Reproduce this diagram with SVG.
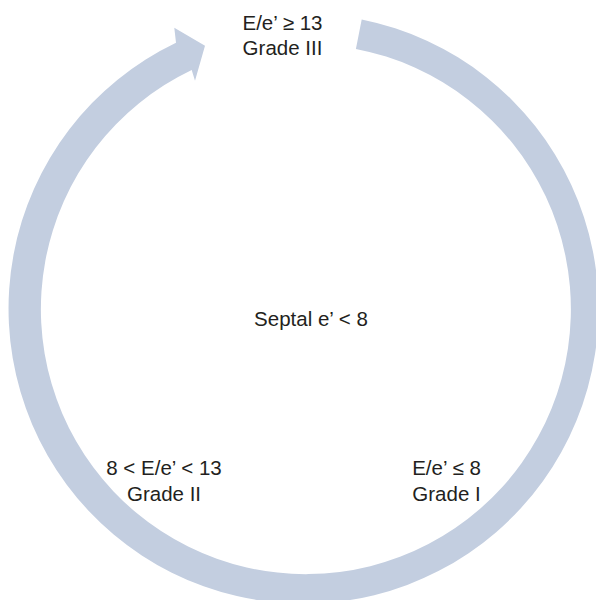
<svg xmlns="http://www.w3.org/2000/svg" width="596" height="600" viewBox="0 0 596 600">
  <style>
    .ring { fill: #c3cee0; stroke: none; }
    .label { font-family: "Liberation Sans", Arial, sans-serif; font-size: 20.5px; fill: #231f20; text-anchor: middle; }
  </style>
  <rect width="596" height="600" fill="#ffffff"/>
  <!-- circular arrow: thick ring open at the top, head pointing clockwise -->
  <g id="connectors">
    <path class="ring" d="M 361.7,19.5 A 295 295 0 1 1 176,42.7 L 174.3,27.7 L 205,45.7 L 195,80.7 L 191.7,70 A 265 265 0 1 0 355.9,48.9 Z"/>
  </g>
  <g id="grade3">
    <text class="label" x="282.5" y="30">E/e’ ≥ 13</text>
    <text class="label" x="282.5" y="55">Grade III</text>
  </g>
  <g id="center">
    <text class="label" x="311" y="326">Septal e’ &lt; 8</text>
  </g>
  <g id="grade2">
    <text class="label" x="164" y="475">8 &lt; E/e’ &lt; 13</text>
    <text class="label" x="164" y="501">Grade II</text>
  </g>
  <g id="grade1">
    <text class="label" x="446.5" y="475">E/e’ ≤ 8</text>
    <text class="label" x="446.5" y="501">Grade I</text>
  </g>
</svg>
